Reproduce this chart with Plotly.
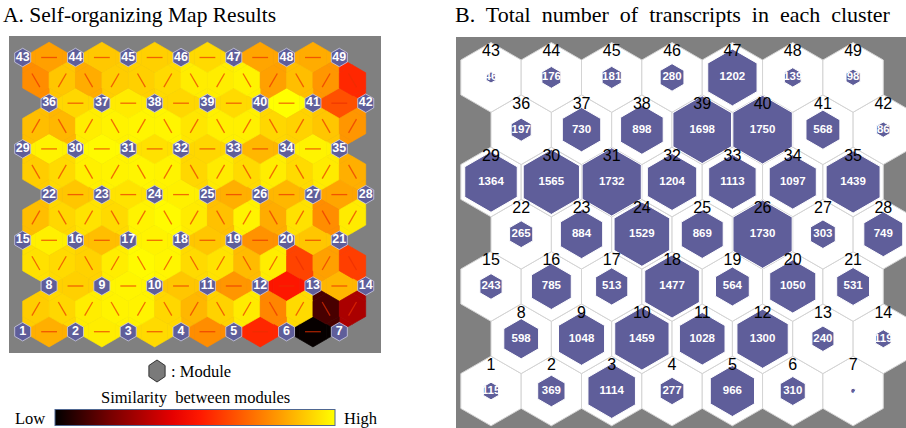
import math
import plotly.graph_objects as go
from plotly.colors import sample_colorscale

# ---------------- page geometry (pixels) ----------------
FIG_W, FIG_H = 906, 428
A_BOX = (9, 36, 381, 353)        # left, top, right, bottom of the U-matrix panel
A_UNIT = 52.77                   # px between neighbouring map nodes
A_NODE1 = (22.7, 331.7)          # px position of node 1
B_BOX = (456, 37, 906, 428)      # cluster-size panel
B_UNIT = 60.35
B_NODE1 = (491.0, 391.0)

ROW_H = math.sqrt(3) / 2         # vertical node spacing on a hexagonal lattice
N_ROWS, N_COLS = 7, 7

# ---------------- data ----------------
# Similarity between horizontally neighbouring nodes, map row 1 (bottom) to row 7 (top)
h_edges = [
    [0.84, 0.965, 0.925, 0.77, 0.55, 0.01],
    [0.905, 0.98, 0.885, 0.79, 0.51, 0.855],
    [0.97, 0.87, 0.975, 0.885, 0.78, 0.885],
    [0.885, 0.945, 0.97, 0.84, 0.855, 0.82],
    [0.975, 0.99, 0.94, 0.92, 0.855, 0.975],
    [0.92, 0.96, 0.92, 0.925, 1.0, 0.64],
    [0.81, 0.89, 0.905, 0.925, 0.82, 0.835],
]
# Similarity between nodes of consecutive rows (row 1-2 first), left to right
d_edges = [
    [0.9, 0.92, 0.965, 0.975, 0.975, 0.92, 0.855, 0.91, 0.96, 0.755, 0.925, 0.12, 0.3],
    [0.94, 0.925, 0.91, 0.965, 0.99, 0.98, 0.925, 0.945, 0.865, 0.965, 0.61, 0.81, 0.6],
    [0.87, 0.92, 0.945, 0.925, 0.975, 0.99, 0.96, 0.875, 0.975, 0.835, 0.94, 0.77, 0.96],
    [0.9, 0.925, 0.97, 0.975, 0.98, 0.975, 0.92, 0.96, 0.925, 0.965, 0.925, 0.96, 0.84],
    [0.87, 0.855, 0.965, 0.975, 0.98, 0.98, 0.95, 0.97, 0.97, 0.92, 0.91, 0.885, 0.79],
    [0.77, 0.885, 0.835, 0.9, 0.905, 0.925, 0.965, 0.965, 0.975, 0.81, 0.87, 0.79, 0.55],
]
# Number of transcripts in clusters 1..49
cluster_counts = [
    115, 369, 1114, 277, 966, 310, 12,
    598, 1048, 1459, 1028, 1300, 240, 119,
    243, 785, 513, 1477, 564, 1050, 531,
    265, 884, 1529, 869, 1730, 303, 749,
    1364, 1565, 1732, 1204, 1113, 1097, 1439,
    197, 730, 898, 1698, 1750, 568, 86,
    46, 176, 181, 280, 1202, 139, 98,
]

SIM_SCALE = [
    [0.0, "rgb(0,0,0)"],
    [0.2, "rgb(120,0,0)"],
    [0.42, "rgb(230,0,0)"],
    [0.52, "rgb(255,25,0)"],
    [0.65, "rgb(255,85,0)"],
    [0.8, "rgb(255,155,0)"],
    [0.9, "rgb(255,205,0)"],
    [1.0, "rgb(255,255,0)"],
]
PURPLE = "#5f5e9a"
BG_GRAY = "#808080"
SANS = "Liberation Sans, Arial, sans-serif"
SERIF = "Liberation Serif, Times New Roman, serif"
HEX_W = math.sqrt(3) / 2  # width of plotly's 'hexagon' symbol per unit of marker size


def axis_setup(box, unit, node1):
    l, t, r, b = box
    xr = [(l - node1[0]) / unit, (r - node1[0]) / unit]
    yr = [(node1[1] - b) / unit, (node1[1] - t) / unit]
    xd = [l / FIG_W, r / FIG_W]
    yd = [1 - b / FIG_H, 1 - t / FIG_H]
    common = dict(visible=False, showgrid=False, zeroline=False, fixedrange=True)
    return dict(range=xr, domain=xd, **common), dict(range=yr, domain=yd, **common)


def node_xy(n, k):
    return k + 0.5 * (n % 2), n * ROW_H


# ---------------- panel A: U-matrix ----------------
tile_x, tile_y, tile_v, seg_x, seg_y = [], [], [], [], []
lookup = {}
for n, row in enumerate(h_edges):
    for k, v in enumerate(row):
        x, y = k + 0.5 * (n % 2) + 0.5, n * ROW_H
        tile_x.append(x); tile_y.append(y); tile_v.append(v)
        lookup[(round(x * 4), round(y / ROW_H * 2))] = v
        seg_x += [x - 0.15, x + 0.15, None]
        seg_y += [y, y, None]
for m, row in enumerate(d_edges):
    for j, v in enumerate(row):
        x, y = 0.25 + 0.5 * j, (m + 0.5) * ROW_H
        dx = 0.5 if (m + j) % 2 == 0 else -0.5
        tile_x.append(x); tile_y.append(y); tile_v.append(v)
        lookup[(round(x * 4), round(y / ROW_H * 2))] = v
        seg_x += [x - 0.15 * dx, x + 0.15 * dx, None]
        seg_y += [y - 0.15 * ROW_H, y + 0.15 * ROW_H, None]

# node cells take the colour of the neighbouring edge cell on each side
shapes = []
R_CELL = 0.5 / math.sqrt(3)
for n in range(N_ROWS):
    for k in range(N_COLS):
        cx, cy = node_xy(n, k)
        for d in range(6):
            th = math.radians(60 * d)
            mx, my = cx + 0.5 * math.cos(th), cy + 0.5 * math.sin(th)
            key = (round(mx * 4), round(my / ROW_H * 2))
            if key not in lookup:
                continue
            col = sample_colorscale(SIM_SCALE, [lookup[key]])[0]
            pts = [(cx, cy)]
            for a in (60 * d - 30, 60 * d + 30):
                ra = math.radians(a)
                pts.append((cx + R_CELL * math.cos(ra), cy + R_CELL * math.sin(ra)))
            path = "M {} {} L {} {} L {} {} Z".format(*[c for p in pts for c in p])
            shapes.append(dict(type="path", path=path, xref="x", yref="y",
                               fillcolor=col, line=dict(color=col, width=0.6),
                               layer="below"))

# legend symbol for a module (pointy-top hexagon, in page pixels)
LEG_C, LEG_R = (157.0, 371.0), 11.0
leg_pts = []
for i in range(6):
    a = math.radians(90 + 60 * i)
    leg_pts.append(((LEG_C[0] + LEG_R * 0.85 * math.cos(a)) / FIG_W,
                    1 - (LEG_C[1] - LEG_R * math.sin(a)) / FIG_H))
shapes.append(dict(type="path", xref="paper", yref="paper",
                   path="M " + " L ".join(f"{x} {y}" for x, y in leg_pts) + " Z",
                   fillcolor="#7a7a7a", line=dict(color="#333333", width=1)))

tile_size = 0.5 * A_UNIT / HEX_W

fig = go.Figure()
fig.add_trace(go.Scatter(
    x=tile_x, y=tile_y, mode="markers", hoverinfo="skip", showlegend=False,
    marker=dict(symbol="hexagon", size=tile_size, color=tile_v, opacity=1,
                colorscale=SIM_SCALE, cmin=0, cmax=1,
                line=dict(width=0.7, color=tile_v, colorscale=SIM_SCALE, cmin=0, cmax=1),
                showscale=True,
                colorbar=dict(orientation="h", x=195 / FIG_W, xanchor="center",
                              y=1 - 418 / FIG_H, yanchor="middle",
                              len=280, lenmode="pixels", thickness=16,
                              outlinewidth=1, outlinecolor="#4f6791",
                              showticklabels=False, ticks="", xpad=0, ypad=0)),
    xaxis="x", yaxis="y"))
fig.add_trace(go.Scatter(
    x=seg_x, y=seg_y, mode="lines", hoverinfo="skip", showlegend=False,
    line=dict(color="rgba(235,45,0,0.68)", width=1.3), xaxis="x", yaxis="y"))

node_x, node_y, node_id = [], [], []
for n in range(N_ROWS):
    for k in range(N_COLS):
        x, y = node_xy(n, k)
        node_x.append(x); node_y.append(y); node_id.append(str(n * N_COLS + k + 1))
fig.add_trace(go.Scatter(
    x=node_x, y=node_y, text=node_id, mode="markers+text", textposition="middle center",
    hoverinfo="skip", showlegend=False,
    marker=dict(symbol="hexagon", size=18.5, color=PURPLE, opacity=1,
                line=dict(color="rgba(215,215,240,0.9)", width=0.8)),
    textfont=dict(family=SANS, size=12.5, color="white", weight="bold"),
    xaxis="x", yaxis="y"))

# ---------------- panel B: cluster sizes ----------------
max_count = max(cluster_counts)
cell_size = B_UNIT / HEX_W
fig.add_trace(go.Scatter(
    x=node_x, y=node_y, mode="markers", hoverinfo="skip", showlegend=False,
    marker=dict(symbol="hexagon", size=cell_size, color="white", opacity=1,
                line=dict(color="#d4d4d4", width=1)),
    xaxis="x2", yaxis="y2"))
fig.add_trace(go.Scatter(
    x=node_x, y=node_y, text=[str(c) for c in cluster_counts],
    mode="markers+text", textposition="middle center", hoverinfo="skip", showlegend=False,
    marker=dict(symbol="hexagon", opacity=1,
                size=[59.5 * math.sqrt(c / max_count) / HEX_W for c in cluster_counts],
                color=PURPLE, line=dict(color="white", width=1)),
    textfont=dict(family=SANS, size=11.5, color="white", weight="bold"),
    xaxis="x2", yaxis="y2"))
fig.add_trace(go.Scatter(
    x=node_x, y=[y + 25 / B_UNIT for y in node_y], text=node_id,
    mode="text", textposition="middle center", hoverinfo="skip", showlegend=False,
    textfont=dict(family=SANS, size=16, color="black"),
    xaxis="x2", yaxis="y2"))

xa, ya = axis_setup(A_BOX, A_UNIT, A_NODE1)
xb, yb = axis_setup(B_BOX, B_UNIT, B_NODE1)


def label(text, x_px, y_px, size, anchor="left"):
    return dict(text=text, x=x_px / FIG_W, y=1 - y_px / FIG_H, xref="paper", yref="paper",
                xanchor=anchor, yanchor="middle", showarrow=False,
                font=dict(family=SERIF, size=size, color="black"))


title_b = "\u00a0 ".join("B. Total number of transcripts in each cluster".split(" "))

fig.update_layout(
    width=FIG_W, height=FIG_H,
    margin=dict(l=0, r=0, t=0, b=0, pad=0, autoexpand=False),
    paper_bgcolor="white", plot_bgcolor=BG_GRAY,
    xaxis=xa, yaxis=ya, xaxis2=xb, yaxis2=yb,
    shapes=shapes,
    annotations=[
        label("A. Self-organizing Map Results", 1, 15, 21.5),
        label(title_b, 453, 15, 22),
        label(": Module", 169, 371, 16.5),
        label("Similarity\u00a0 between modules", 195, 397, 16.5, anchor="center"),
        label("Low", 13, 418, 16.5),
        label("High", 342, 418, 16.5),
    ],
)

fig.write_html("out.html")
